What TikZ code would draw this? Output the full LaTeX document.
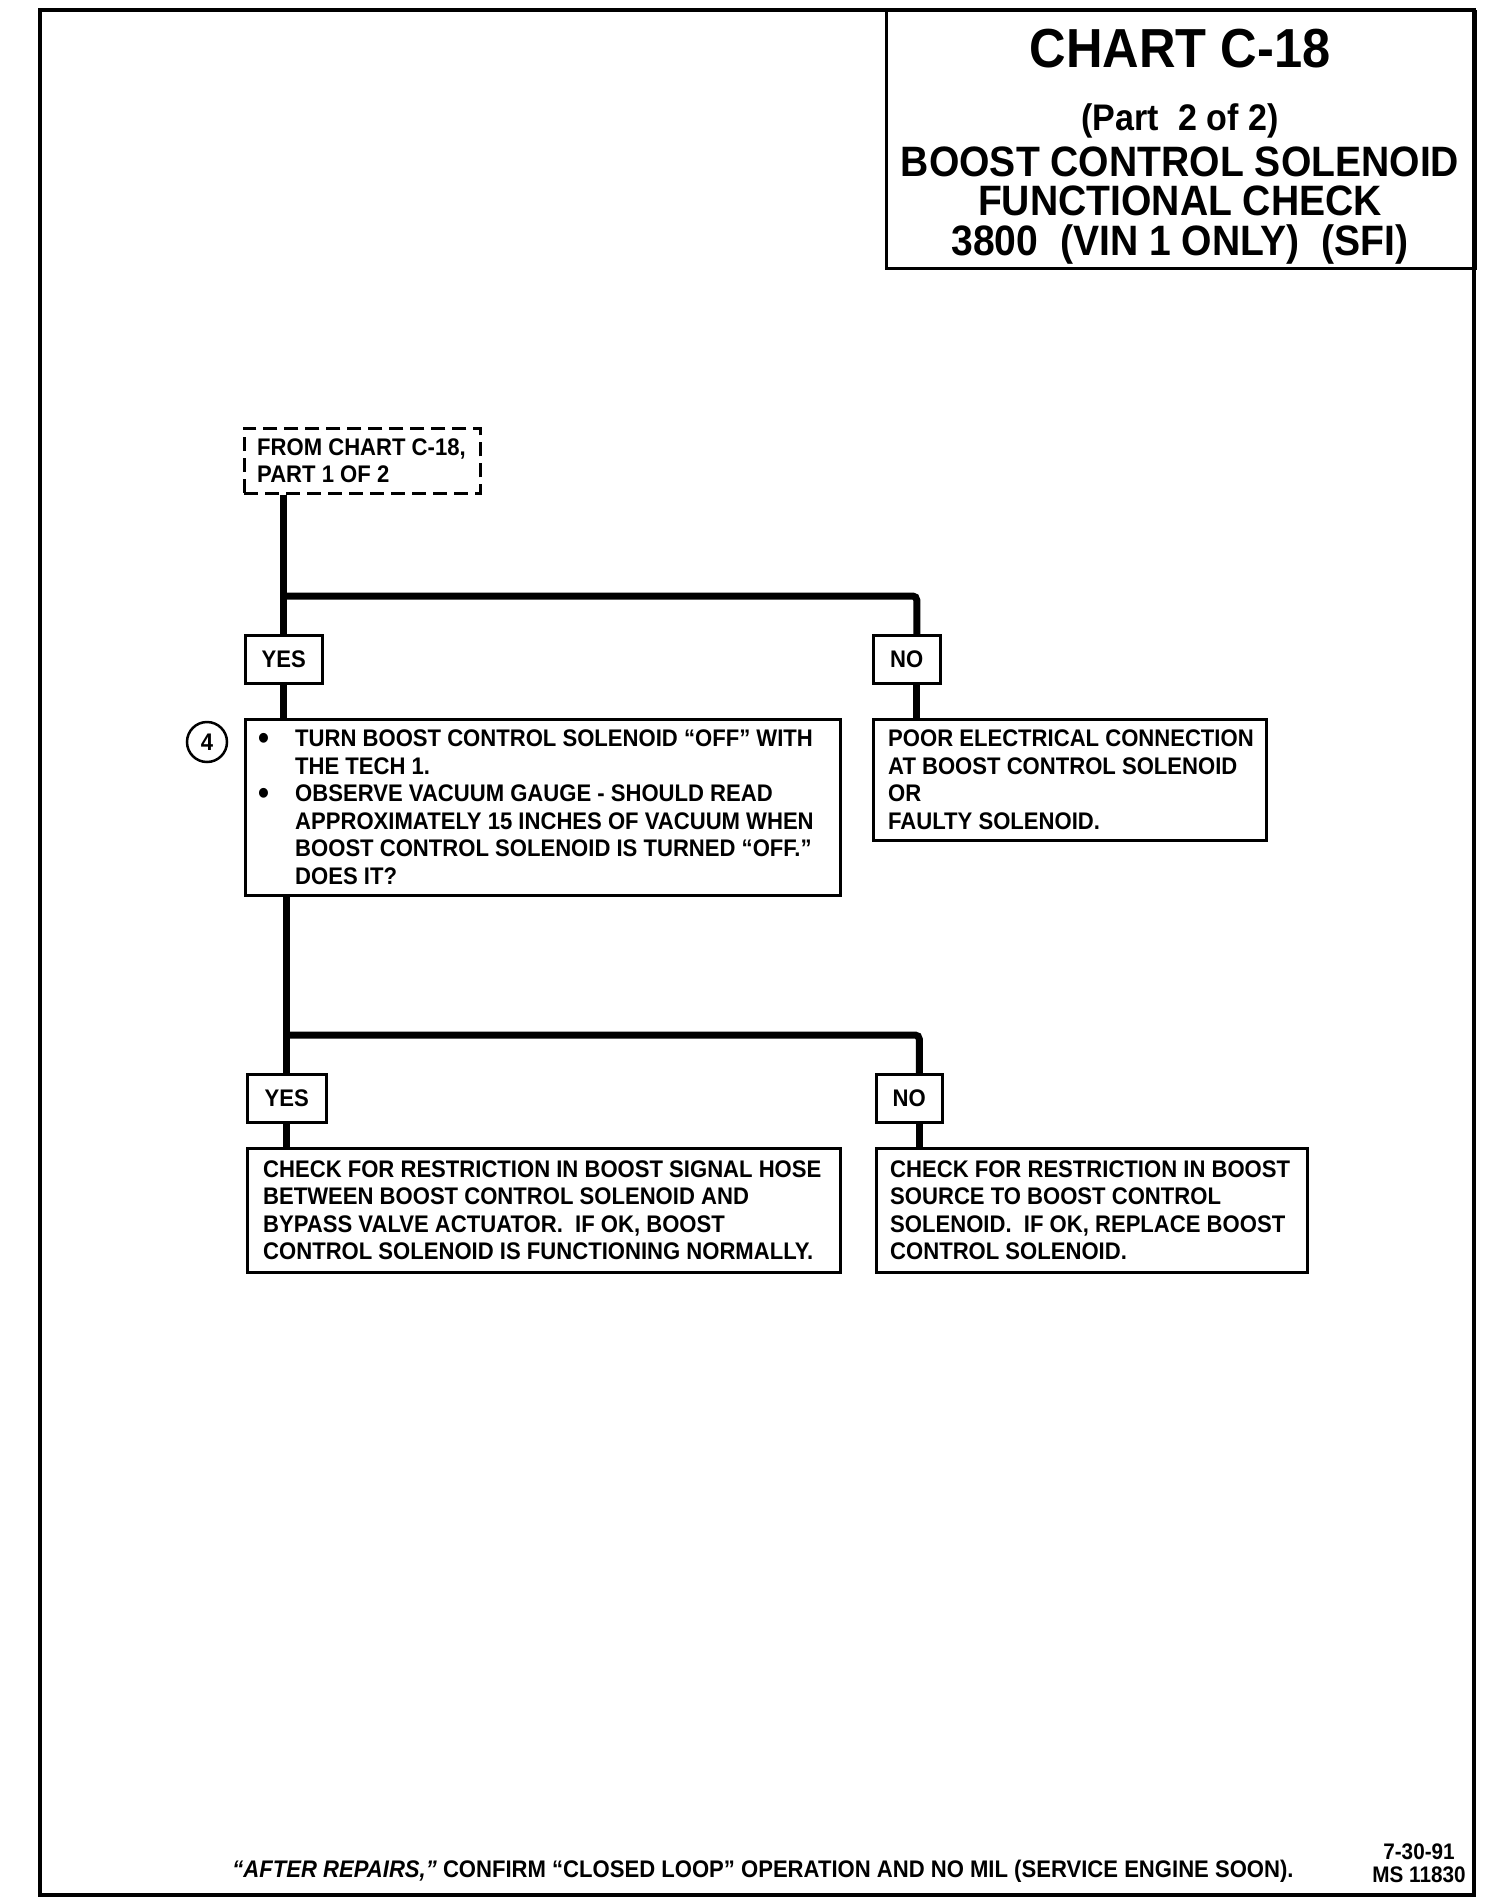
\documentclass[tikz,border=0pt]{standalone}
\usepackage{fontspec}
\setmainfont{Liberation Sans}[FakeStretch=0.92]
\newcommand\bodyfont{\bfseries\fontsize{24}{27.5}\selectfont}
\newcommand\blt{\makebox[37pt][l]{\raisebox{-3pt}{\fontsize{34}{0}\selectfont •}}}
\begin{document}
\begin{tikzpicture}[x=1pt,y=-1pt,
  conn/.style={line width=7pt, rounded corners=4pt},
  box/.style={draw, line width=2.5pt, inner sep=0pt, anchor=north west},
  txt/.style={inner sep=0pt, align=left, anchor=west, font=\bodyfont},
  yn/.style={box, font=\bodyfont, minimum height=48pt},
  ttl/.style={inner sep=0pt, anchor=base, font=\bfseries\fontsize{#1}{#1}\selectfont}]
\useasboundingbox (0,0) rectangle (1504,1902);
% title box
\node[box, minimum width=589pt, minimum height=257pt] (title) at (885,10) {};
\node[ttl=55] (t1) at (1180,68) {CHART C-18};
\node[ttl=37] (t2) at (1180,131) {(Part\ \ 2 of 2)};
\node[ttl=42.5] (t3) at (1180,177) {BOOST CONTROL SOLENOID};
\node[ttl=42.5] (t4) at (1180,216) {FUNCTIONAL CHECK};
\node[ttl=42.5] (t5) at (1180,256) {3800\ \ (VIN 1 ONLY)\ \ (SFI)};
% outer frame
\draw[line width=4.5pt] (40,10) rectangle (1474,1895);
% source
\node[box, dash pattern=on 14pt off 7pt, minimum width=236pt, minimum height=65pt] (src) at (243,427) {};
\node[txt] (srct) at ([xshift=14pt]src.west) {FROM CHART C-18,\\PART 1 OF 2};
% first decision
\node[yn, minimum width=77pt] (yes1) at (244,634) {YES};
\node[yn, minimum width=67pt] (no1) at (872,634) {NO};
\node[box, minimum width=595pt, minimum height=176pt] (s4) at (244,718) {};
\node[txt] (s4t) at ([xshift=14pt]s4.west) {%
\blt TURN BOOST CONTROL SOLENOID “OFF” WITH\\
\hspace*{37pt}THE TECH 1.\\
\blt OBSERVE VACUUM GAUGE - SHOULD READ\\
\hspace*{37pt}APPROXIMATELY 15 INCHES OF VACUUM WHEN\\
\hspace*{37pt}BOOST CONTROL SOLENOID IS TURNED “OFF.”\\
\hspace*{37pt}DOES IT?};
\node[circle, draw, line width=2.5pt, minimum size=40pt, inner sep=0pt, font=\bodyfont] (c4) at (207,742) {4};
\node[box, minimum width=393pt, minimum height=121pt] (poor) at (872,718) {};
\node[txt] (poort) at ([xshift=16pt]poor.west) {POOR ELECTRICAL CONNECTION\\AT BOOST CONTROL SOLENOID\\OR\\FAULTY SOLENOID.};
% second decision
\node[yn, minimum width=79pt] (yes2) at (246,1073) {YES};
\node[yn, minimum width=66pt] (no2) at (875,1073) {NO};
\node[box, minimum width=593pt, minimum height=124pt] (chk1) at (246,1147) {};
\node[txt] (chk1t) at ([xshift=17pt]chk1.west) {CHECK FOR RESTRICTION IN BOOST SIGNAL HOSE\\BETWEEN BOOST CONTROL SOLENOID AND\\BYPASS VALVE ACTUATOR.\ \ IF OK, BOOST\\CONTROL SOLENOID IS FUNCTIONING NORMALLY.};
\node[box, minimum width=431pt, minimum height=124pt] (chk2) at (875,1147) {};
\node[txt] (chk2t) at ([xshift=15pt]chk2.west) {CHECK FOR RESTRICTION IN BOOST\\SOURCE TO BOOST CONTROL\\SOLENOID.\ \ IF OK, REPLACE BOOST\\CONTROL SOLENOID.};
% connectors
\coordinate (j1) at (282.5,596);
\coordinate (j2) at (285.5,1035);
\draw[conn] (src.south -| yes1.north) -- (yes1.north);
\draw[conn] (j1) -| ([xshift=10pt]no1.north);
\draw[conn] (yes1.south) -- (yes1.south |- s4.north);
\draw[conn] ([xshift=10pt]no1.south) -- ([xshift=10pt]no1.south |- poor.north);
\draw[conn] (yes2.north |- s4.south) -- (yes2.north);
\draw[conn] (j2) -| ([xshift=10pt]no2.north);
\draw[conn] (yes2.south) -- (yes2.south |- chk1.north);
\draw[conn] ([xshift=10pt]no2.south) -- ([xshift=10pt]no2.south |- chk2.north);
% footer
\node[inner sep=0pt, anchor=base, font=\bodyfont] (foot) at (763,1877) {\textit{“AFTER REPAIRS,”} CONFIRM “CLOSED LOOP” OPERATION AND NO MIL (SERVICE ENGINE SOON).};
\node[inner sep=0pt, anchor=base, font=\bfseries\fontsize{22.5}{19}\selectfont] (date) at (1419,1859) {7-30-91};
\node[inner sep=0pt, anchor=base, font=\bfseries\fontsize{22.5}{19}\selectfont] (ms) at (1419,1882) {MS 11830};
\end{tikzpicture}
\end{document}
